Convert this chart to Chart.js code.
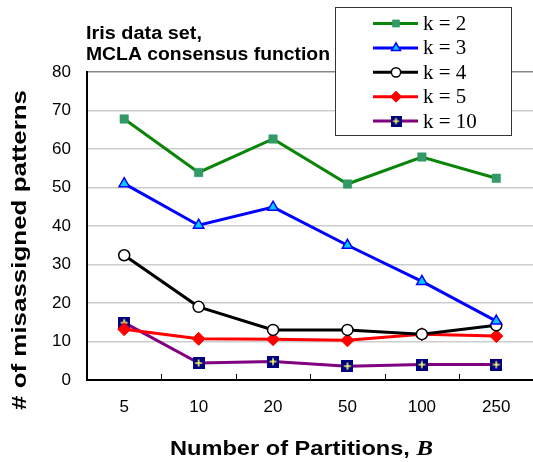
<!DOCTYPE html>
<html>
<head>
<meta charset="utf-8">
<script src="https://cdn.jsdelivr.net/npm/chart.js@4.4.0/dist/chart.umd.min.js"></script>
<style>
  html, body { margin: 0; padding: 0; background: #fff; overflow: hidden; }
  #wrap { width: 541px; height: 462px; }
</style>
</head>
<body>
<div id="wrap"><canvas id="iris"></canvas></div>
<script>
// data
const partitions = ['5', '10', '20', '50', '100', '250'];
const k2 = [67.8, 53.9, 62.6, 50.9, 57.9, 52.4];
const k3 = [51.0, 40.2, 44.9, 35.0, 25.6, 15.3];
const k4 = [32.4, 19.0, 13.0, 13.0, 11.9, 14.2];
const k5 = [13.2, 10.7, 10.6, 10.3, 11.9, 11.4];
const k10 = [14.9, 4.4, 4.8, 3.6, 4.0, 4.0];
const yTicks = [0, 10, 20, 30, 40, 50, 60, 70, 80];

const SANS = '"Liberation Sans", Arial, sans-serif';
const SERIF = '"Liberation Serif", "Times New Roman", serif';

// navy square with a yellow plus, used for k = 10
function plusBox(size) {
    const c = document.createElement('canvas');
    c.width = size; c.height = size;
    const g = c.getContext('2d');
    g.fillStyle = '#000080';
    g.fillRect(0, 0, size, size);
    g.strokeStyle = '#ffff66';
    g.lineWidth = 1.6;
    g.beginPath();
    g.moveTo(size / 2, 2.5); g.lineTo(size / 2, size - 2.5);
    g.moveTo(2.5, size / 2); g.lineTo(size - 2.5, size / 2);
    g.stroke();
    return c;
}
const plusMark = plusBox(12);
const plusSmall = plusBox(11);

// text squeezed/stretched to a given width
function fitText(ctx, text, x, y, width) {
    const w = ctx.measureText(text).width;
    ctx.save();
    ctx.translate(x, y);
    ctx.scale(width / w, 1);
    ctx.fillText(text, 0, 0);
    ctx.restore();
}

// titles, legend box and inner x ticks
const extras = {
    id: 'extras',
    afterDraw(chart) {
        const ctx = chart.ctx;
        const area = chart.chartArea;
        ctx.save();

        // small inward ticks between categories
        ctx.strokeStyle = '#000';
        ctx.lineWidth = 1;
        const step = (area.right - area.left) / partitions.length;
        for (let i = 1; i < partitions.length; i++) {
            const px = Math.round(area.left + i * step) + 0.5;
            ctx.beginPath();
            ctx.moveTo(px, area.bottom);
            ctx.lineTo(px, area.bottom - 6);
            ctx.stroke();
        }

        // chart title
        ctx.fillStyle = '#000';
        ctx.textAlign = 'left';
        ctx.textBaseline = 'alphabetic';
        ctx.font = 'bold 18px ' + SANS;
        fitText(ctx, 'Iris data set,', 86, 39, 116);
        fitText(ctx, 'MCLA consensus function', 86, 60, 244);

        // y title, rotated
        ctx.save();
        ctx.translate(26, 250);
        ctx.rotate(-Math.PI / 2);
        ctx.font = 'bold 20px ' + SANS;
        ctx.textBaseline = 'alphabetic';
        fitText(ctx, '# of misassigned patterns', -160, 0, 320);
        ctx.restore();

        // x title with italic B
        ctx.save();
        const partA = 'Number of Partitions, ';
        ctx.font = 'bold 20px ' + SANS;
        const wa = ctx.measureText(partA).width;
        ctx.font = 'bold italic 21px ' + SERIF;
        const wb = ctx.measureText('B').width;
        const sx = 263 / (wa + wb);
        ctx.translate(170, 455);
        ctx.scale(sx, 1);
        ctx.font = 'bold 20px ' + SANS;
        ctx.fillText(partA, 0, 0);
        ctx.font = 'bold italic 21px ' + SERIF;
        ctx.fillText('B', wa, 0);
        ctx.restore();

        // legend
        const bx = 335.5, by = 7.5, bw = 176, bh = 128;
        ctx.fillStyle = '#fff';
        ctx.fillRect(bx, by, bw, bh);
        ctx.strokeStyle = '#333';
        ctx.lineWidth = 1;
        ctx.strokeRect(bx, by, bw, bh);
        ctx.font = '21px ' + SERIF;
        ctx.textBaseline = 'middle';
        chart.data.datasets.forEach((ds, i) => {
            const cy = by + 16 + i * 24.4;
            ctx.strokeStyle = ds.borderColor;
            ctx.lineWidth = 3;
            ctx.beginPath();
            ctx.moveTo(373, cy);
            ctx.lineTo(418, cy);
            ctx.stroke();
            ctx.fillStyle = ds.pointBackgroundColor;
            ctx.strokeStyle = ds.pointBorderColor;
            ctx.lineWidth = ds.pointBorderWidth;
            Chart.helpers.drawPoint(ctx, {
                pointStyle: ds.pointStyle === plusMark ? plusSmall : ds.pointStyle,
                rotation: 0,
                radius: ds.pointRadius * 0.85,
                borderWidth: ds.pointBorderWidth
            }, 396, cy);
            ctx.fillStyle = '#000';
            ctx.fillText(ds.label, 423, cy + 1);
        });
        ctx.restore();
    }
};

function line(label, values, color, style, fill, radius, border, bw) {
    return {
        label: label,
        data: values,
        borderColor: color,
        backgroundColor: color,
        borderWidth: 3,
        pointStyle: style,
        pointRadius: radius,
        pointHoverRadius: radius,
        pointBackgroundColor: fill,
        pointBorderColor: border,
        pointBorderWidth: bw,
        tension: 0
    };
}

new Chart(document.getElementById('iris'), {
    type: 'line',
    data: {
        labels: partitions,
        datasets: [
            line('k = 2', k2, '#0a850a', 'rect', '#339966', 6, '#339966', 0.5),
            line('k = 3', k3, '#0000ff', 'triangle', '#00ccff', 6, '#0000ff', 1.5),
            line('k = 4', k4, '#000000', 'circle', '#ffffff', 5.5, '#000000', 1.5),
            line('k = 5', k5, '#ff0000', 'rectRot', '#ff0000', 6.5, '#ff0000', 1),
            line('k = 10', k10, '#800080', plusMark, '#000080', 6, '#000080', 1)
        ]
    },
    options: {
        responsive: true,
        maintainAspectRatio: false,
        animation: false,
        events: [],
        layout: { padding: { top: 72, right: 1, left: 0, bottom: 0 } },
        plugins: {
            legend: { display: false },
            tooltip: { enabled: false }
        },
        scales: {
            x: {
                offset: true,
                grid: { display: false },
                border: { display: true, color: '#000', width: 2 },
                ticks: {
                    color: '#000',
                    padding: 9,
                    font: { family: SANS, size: 17 }
                },
                afterFit(scale) { scale.height = 82; }
            },
            y: {
                min: 0,
                max: 80,
                afterBuildTicks(scale) { scale.ticks = yTicks.map(v => ({ value: v })); },
                grid: {
                    color: (c) => c.tick && c.tick.value === 80 ? '#888' : '#cdcdcd',
                    lineWidth: 1.5,
                    drawTicks: false
                },
                border: { display: true, color: '#000', width: 2 },
                ticks: {
                    color: '#000',
                    padding: 16,
                    font: { family: SANS, size: 17 }
                },
                afterFit(scale) { scale.width = 87; }
            }
        }
    },
    plugins: [extras]
});
</script>
</body>
</html>
